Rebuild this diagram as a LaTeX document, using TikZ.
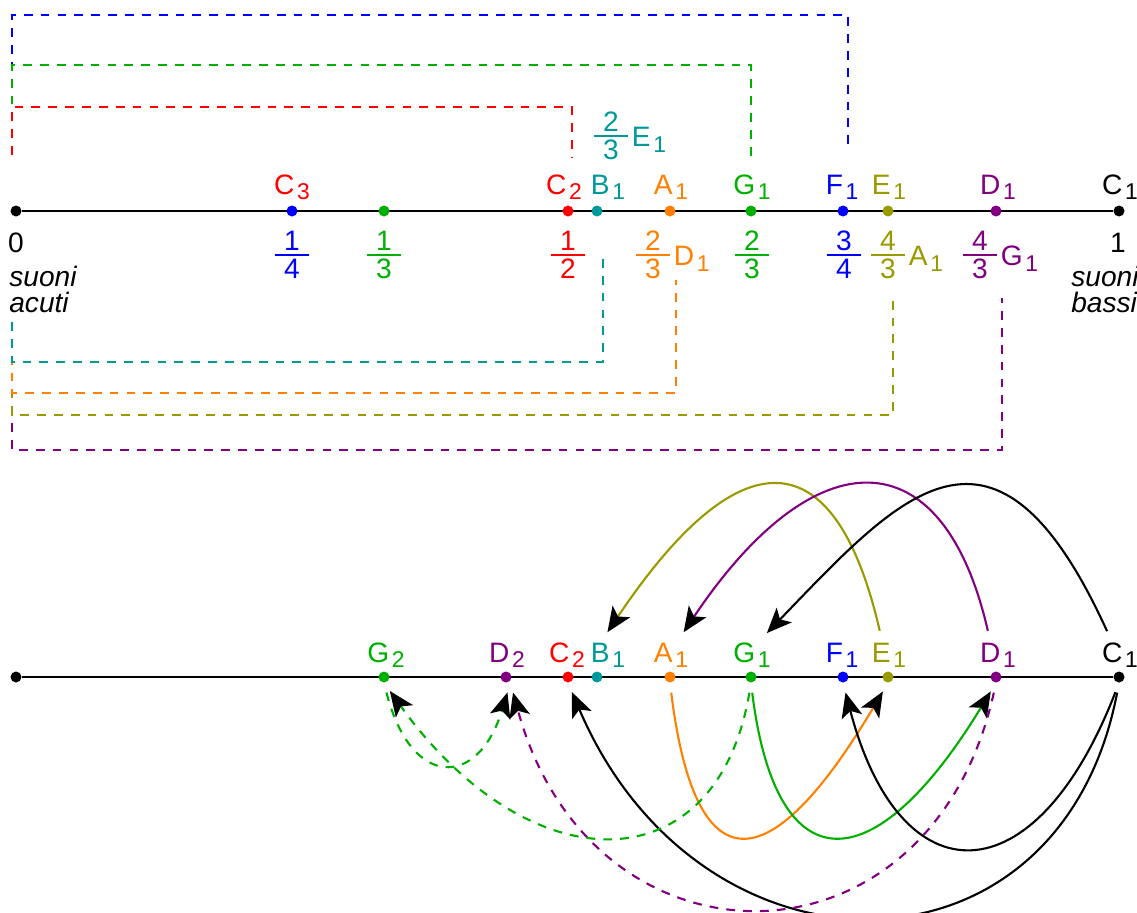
\documentclass[tikz,border=0pt]{standalone}
\usepackage{fontspec}
\setmainfont{Liberation Sans}
\usetikzlibrary{arrows.meta,backgrounds}
\definecolor{rosso}{RGB}{255,0,0}
\definecolor{blu}{RGB}{0,0,255}
\definecolor{verde}{RGB}{0,176,0}
\definecolor{ciano}{RGB}{0,153,153}
\definecolor{arancio}{RGB}{255,128,0}
\definecolor{oliva}{RGB}{153,153,0}
\definecolor{viola}{RGB}{128,0,128}
\setlength{\arrayrulewidth}{1.1pt}
\newcommand{\nota}[2]{#1\kern1.5pt\raisebox{-3.3pt}{\fontsize{13}{15}\selectfont #2}}
\newcommand{\fraz}[2]{\begin{tabular}{@{\hspace{5pt}}c@{\hspace{5pt}}}#1\\[-3.8pt]\hline\rule{0pt}{12.5pt}#2\end{tabular}}
\begin{document}
\begin{tikzpicture}[x=0.02cm, y=-0.02cm,
  every node/.style={font=\fontsize{16}{19}\selectfont},
  punto/.style={circle, fill=#1, minimum size=0.22cm, inner sep=0pt},
  lab/.style={text=#1, anchor=base, inner sep=1pt},
  fr/.style={text=#1, inner sep=0pt},
  tratt/.style={dash pattern=on 5pt off 4.6pt},
  guide/.style={#1, line width=1.2pt, tratt},
  link/.style={#1, line width=1.2pt, shorten <=0.2cm, shorten >=0.2cm,
    -{Stealth[length=0.5cm, width=0.42cm, inset=0.12cm, color=black]}}]
\useasboundingbox (0,0) rectangle (1137,913);

% string lengths
\coordinate (su) at (12,155);
\coordinate (giu) at (12,322);
\draw[guide=blu] (su) |- (848,15) -- (848,152);
\draw[guide=verde] (su) |- (751,65) -- (751,158);
\draw[guide=rosso] (su) |- (572,107) -- (572,157);
\draw[guide=viola] (giu) |- (1002,450) -- (1002,298);
\draw[guide=oliva] (giu) |- (893,415) -- (893,295);
\draw[guide=arancio] (giu) |- (676,393) -- (676,280);
\draw[guide=ciano] (giu) |- (603,362) -- (603,252);

% upper line
\node[punto=black] (u0) at (16,211) {};
\node[punto=blu] (uC3) at (292,211) {};
\node[punto=verde] (u13) at (384,211) {};
\node[punto=rosso] (uC2) at (568,211) {};
\node[punto=ciano] (uB1) at (597,211) {};
\node[punto=arancio] (uA1) at (670,211) {};
\node[punto=verde] (uG1) at (751,211) {};
\node[punto=blu] (uF1) at (843,211) {};
\node[punto=oliva] (uE1) at (888,211) {};
\node[punto=viola] (uD1) at (996,211) {};
\node[punto=black] (uC1) at (1119,211) {};
\begin{pgfonlayer}{background}
\draw[line width=1.3pt] (u0) -- (uC1);
\end{pgfonlayer}

\node[lab=rosso] (tC3) at (292,194) {\nota{C}{3}};
\node[lab=rosso] (tC2) at (564,194) {\nota{C}{2}};
\node[lab=ciano] (tB1) at (608,194) {\nota{B}{1}};
\node[lab=arancio] (tA1) at (671,194) {\nota{A}{1}};
\node[lab=verde] (tG1) at (752,194) {\nota{G}{1}};
\node[lab=blu] (tF1) at (842,194) {\nota{F}{1}};
\node[lab=oliva] (tE1) at (889,194) {\nota{E}{1}};
\node[lab=viola] (tD1) at (998,194) {\nota{D}{1}};
\node[lab=black] (tC1) at (1120,194) {\nota{C}{1}};

\node[lab=black] (n0) at (16,252) {0};
\node[lab=black] (n1) at (1118,252) {1};
\node[fr=blu] (f14) at (292,258) {\fraz{1}{4}};
\node[fr=verde] (f13) at (384,258) {\fraz{1}{3}};
\node[fr=rosso] (f12) at (568,258) {\fraz{1}{2}};
\node[fr=arancio, anchor=west] (f23a) at (636,258) {\fraz{2}{3}\kern2.5pt\nota{D}{1}};
\node[fr=verde] (f23) at (752,258) {\fraz{2}{3}};
\node[fr=blu] (f34) at (844,258) {\fraz{3}{4}};
\node[fr=oliva, anchor=west] (f43a) at (871,258) {\fraz{4}{3}\kern2.5pt\nota{A}{1}};
\node[fr=viola, anchor=west] (f43b) at (963,258) {\fraz{4}{3}\kern2.5pt\nota{G}{1}};
\node[fr=ciano, anchor=west] (f23b) at (594,139) {\fraz{2}{3}\kern2.5pt\nota{E}{1}};

\node[font=\fontsize{16}{14.5}\selectfont\itshape, align=left, anchor=base west, inner sep=0pt] (acuti) at (9,312) {suoni\\acuti};
\node[font=\fontsize{16}{14.5}\selectfont\itshape, align=left, anchor=base west, inner sep=0pt] (bassi) at (1071,312) {suoni\\bassi};

% lower line
\node[punto=black] (Z) at (16,677) {};
\node[punto=verde] (G2) at (384,677) {};
\node[punto=viola] (D2) at (506,677) {};
\node[punto=rosso] (C2) at (568,677) {};
\node[punto=ciano] (B1) at (597,677) {};
\node[punto=arancio] (A1) at (670,677) {};
\node[punto=verde] (G1) at (751,677) {};
\node[punto=blu] (F1) at (843,677) {};
\node[punto=oliva] (E1) at (888,677) {};
\node[punto=viola] (D1) at (996,677) {};
\node[punto=black] (C1) at (1119,677) {};
\begin{pgfonlayer}{background}
\draw[line width=1.3pt] (Z) -- (C1);
\end{pgfonlayer}

\node[lab=verde] (lG2) at (386,662) {\nota{G}{2}};
\node[lab=viola] (lD2) at (507,662) {\nota{D}{2}};
\node[lab=rosso] (lC2) at (567,662) {\nota{C}{2}};
\node[lab=ciano] (lB1) at (608,662) {\nota{B}{1}};
\node[lab=arancio] (lA1) at (671,662) {\nota{A}{1}};
\node[lab=verde] (lG1) at (752,662) {\nota{G}{1}};
\node[lab=blu] (lF1) at (842,662) {\nota{F}{1}};
\node[lab=oliva] (lE1) at (889,662) {\nota{E}{1}};
\node[lab=viola] (lD1) at (998,662) {\nota{D}{1}};
\node[lab=black] (lC1) at (1120,662) {\nota{C}{1}};

% jumps above
\draw[link=oliva] ([xshift=-4pt]lE1.north) .. controls (835,436) and (739,436) .. ([xshift=-3.5pt]lB1.north);
\draw[link=viola] ([xshift=-4.5pt]lD1.north) .. controls (943,435) and (815,436) .. ([xshift=4pt]lA1.north);
\draw[link=black] ([xshift=-5pt]lC1.north) .. controls (995,385) and (900,495) .. ([xshift=4.5pt]lG1.north);

% jumps below
\draw[link=arancio] (A1.south) .. controls (695,885) and (768,885) .. (E1.south);
\draw[link=verde] (G1.south) .. controls (776,885) and (873,885) .. (D1.south);
\draw[link=black] (C1.south) .. controls (1035,900) and (900,900) .. (F1.south);
\draw[link=black] (C1.south) .. controls (1060,992) and (700,992) .. (C2.south);
\draw[link=viola, tratt] (D1.south) .. controls (930,981) and (592,981) .. ([xshift=2.5pt]D2.south);
\draw[link=verde, tratt] (G1.south) .. controls (717,886) and (530,886) .. (G2.south);
\draw[link=verde, tratt] (G2.south) .. controls (411,789) and (478,789) .. ([xshift=2.5pt]D2.south);
\end{tikzpicture}
\end{document}
